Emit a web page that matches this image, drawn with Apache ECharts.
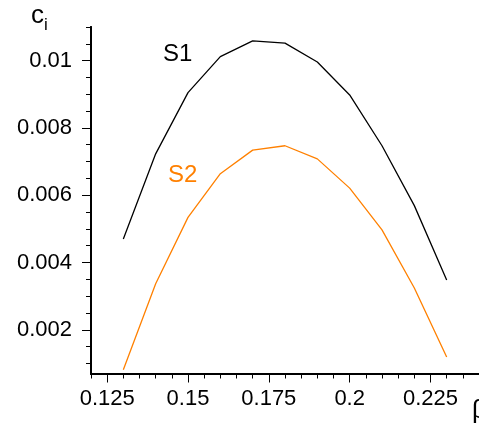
<!DOCTYPE html>
<html>
<head>
<meta charset="utf-8">
<script src="https://cdn.jsdelivr.net/npm/echarts@6/dist/echarts.min.js"></script>
<style>
html,body{margin:0;padding:0;background:#fff;}
#c{width:479px;height:427px;}
</style>
</head>
<body>
<div id="c"></div>
<script>
const betaValues = [0.13, 0.14, 0.15, 0.16, 0.17, 0.18, 0.19, 0.2, 0.21, 0.22, 0.23];
const s1Values = [0.0047, 0.00723, 0.00905, 0.01012, 0.01059, 0.01052, 0.00996, 0.00898, 0.00747, 0.00569, 0.00348];
const s2Values = [0.00081, 0.00337, 0.00534, 0.00664, 0.00734, 0.00747, 0.00708, 0.00621, 0.00497, 0.00324, 0.00119];
const xMajorTicks = [0.125, 0.15, 0.175, 0.2, 0.225];
const xMinorTicks = [0.12,0.13,0.135,0.14,0.145,0.155,0.16,0.165,0.17,0.18,0.185,0.19,0.195,0.205,0.21,0.215,0.22,0.23,0.235,0.24];
const yMajorTicks = [0.002, 0.004, 0.006, 0.008, 0.01];
const yMinorTicks = [0.001,0.0015,0.0025,0.003,0.0035,0.0045,0.005,0.0055,0.0065,0.007,0.0075,0.0085,0.009,0.0095,0.0105,0.011];
const seriesNames = ['S1', 'S2'];

const FONT = '"Liberation Sans", Arial, sans-serif';
const xMin = 0.12, xMax = 0.24, yMin = 0.0007, yMax = 0.011;
const axisLine = {show: true, lineStyle: {color: '#000', width: 2}};

function xAx(ticks, len, labels) {
  return {
    type: 'value', min: xMin, max: xMax, position: 'bottom',
    axisLine: axisLine,
    splitLine: {show: false},
    axisTick: {show: true, inside: false, length: len, lineStyle: {color: '#000', width: 1}, customValues: ticks},
    axisLabel: labels ? {show: true, customValues: ticks, margin: 14, color: '#000', fontSize: 22, fontFamily: FONT,
      formatter: v => String(+v.toFixed(3))} : {show: false}
  };
}
function yAx(ticks, len, labels) {
  return {
    type: 'value', min: yMin, max: yMax, position: 'left',
    axisLine: axisLine,
    splitLine: {show: false},
    axisTick: {show: true, inside: false, length: len, lineStyle: {color: '#000', width: 1}, customValues: ticks},
    axisLabel: labels ? {show: true, customValues: ticks, margin: 19, color: '#000', fontSize: 22, fontFamily: FONT,
      formatter: v => String(+v.toFixed(3))} : {show: false}
  };
}

const chart = echarts.init(document.getElementById('c'), null, {renderer: 'canvas'});
chart.setOption({
  animation: false,
  backgroundColor: '#fff',
  grid: {left: 91, right: -5, top: 27, bottom: 53.5, containLabel: false},
  xAxis: [xAx(xMajorTicks, 9, true), xAx(xMinorTicks, 5, false)],
  yAxis: [yAx(yMajorTicks, 9, true), yAx(yMinorTicks, 5, false)],
  series: [
    {name: seriesNames[0], type: 'line', xAxisIndex: 0, yAxisIndex: 0, showSymbol: false,
     lineStyle: {color: '#000', width: 1.3}, data: betaValues.map((b, i) => [b, s1Values[i]])},
    {name: seriesNames[1], type: 'line', xAxisIndex: 0, yAxisIndex: 0, showSymbol: false,
     lineStyle: {color: '#ff8000', width: 1.3}, data: betaValues.map((b, i) => [b, s2Values[i]])}
  ],
  graphic: [
    {type: 'text', left: 163, top: 42, style: {text: seriesNames[0], fill: '#000', font: '24px ' + FONT}},
    {type: 'text', left: 168, top: 163, style: {text: seriesNames[1], fill: '#ff8000', font: '24px ' + FONT}},
    {type: 'text', left: 31, top: 3, style: {text: '{c|c}{i|i}', rich: {
      c: {fontSize: 26, fontFamily: FONT, fill: '#000', verticalAlign: 'top'},
      i: {fontSize: 17, fontFamily: FONT, fill: '#000', verticalAlign: 'top', padding: [14, 0, 0, 0]}}}},
    {type: 'text', left: 472, top: 398, style: {text: 'β', fill: '#000', font: '26px ' + FONT}}
  ]
});
</script>
</body>
</html>
